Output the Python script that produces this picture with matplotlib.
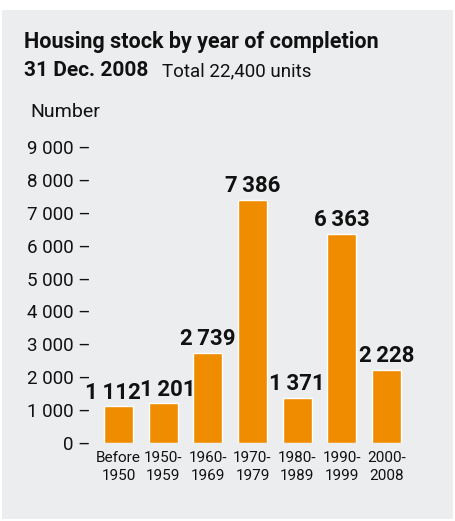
import matplotlib.pyplot as plt
from matplotlib.patches import Rectangle

# Datos
categorias = ["Before\n1950", "1950-\n1959", "1960-\n1969", "1970-\n1979",
              "1980-\n1989", "1990-\n1999", "2000-\n2008"]
viviendas = [1112, 1201, 2739, 7386, 1371, 6363, 2228]
ticks_y = [0, 1000, 2000, 3000, 4000, 5000, 6000, 7000, 8000, 9000]

W, H = 456, 521
fondo = "#ecedef"
naranja = "#f08c00"
plt.rcParams["font.family"] = ["Roboto", "DejaVu Sans"]


def miles(v, sep=" "):
    return f"{v:,}".replace(",", sep)


fig = plt.figure(figsize=(W / 100, H / 100), dpi=100, facecolor="white")
fig.add_artist(Rectangle((2 / W, 2 / H), 451 / W, 509 / H,
                         transform=fig.transFigure, facecolor=fondo,
                         edgecolor="none", zorder=-10))

# Ejes (en pixeles)
L, R = 91.7, 413.3
y0, ytop = 443, 443 - 9.5 * 32.9
ax = fig.add_axes([L / W, (H - y0) / H, (R - L) / W, (y0 - ytop) / H])
ax.set_facecolor("none")
for s in ax.spines.values():
    s.set_visible(False)

x = range(len(viviendas))
ax.bar(x, viviendas, width=0.65, color=naranja, edgecolor="white", linewidth=1)
ax.set_xlim(-0.6, 6.6)
ax.set_ylim(0, 9500)

ax.set_yticks(ticks_y)
ax.set_yticklabels([miles(v) + " \u2013" for v in ticks_y],
                   fontsize=13.5, color="#111111")
ax.set_xticks(list(x))
ax.set_xticklabels(categorias, fontsize=11, color="#111111", linespacing=1.3)
ax.tick_params(axis="both", length=0)
ax.tick_params(axis="y", pad=1)
ax.tick_params(axis="x", pad=6)

# etiquetas de valor (las dos primeras algo separadas para que no se toquen)
desplaz = {0: -4, 1: 3}
for i, v in enumerate(viviendas):
    ax.annotate(miles(v, "\u2009"), (i, v), xytext=(desplaz.get(i, 0), 2),
                textcoords="offset points", ha="center", va="bottom",
                fontsize=16, fontweight="bold", color="#111111")

# Textos
fig.text(24 / W, 1 - 48 / H, "Housing stock by year of completion",
         fontsize=15.5, fontweight="bold", color="#111111", va="baseline")
fig.text(24 / W, 1 - 76 / H, "31 Dec. 2008", fontsize=15,
         fontweight="bold", color="#111111", va="baseline")
fig.text(162 / W, 1 - 76 / H, "Total 22,400 units", fontsize=13.5,
         color="#111111", va="baseline")
fig.text(30 / W, 1 - 117 / H, "Number", fontsize=14, color="#111111",
         va="baseline")

fig.savefig("out.png", dpi=100, facecolor="white")
